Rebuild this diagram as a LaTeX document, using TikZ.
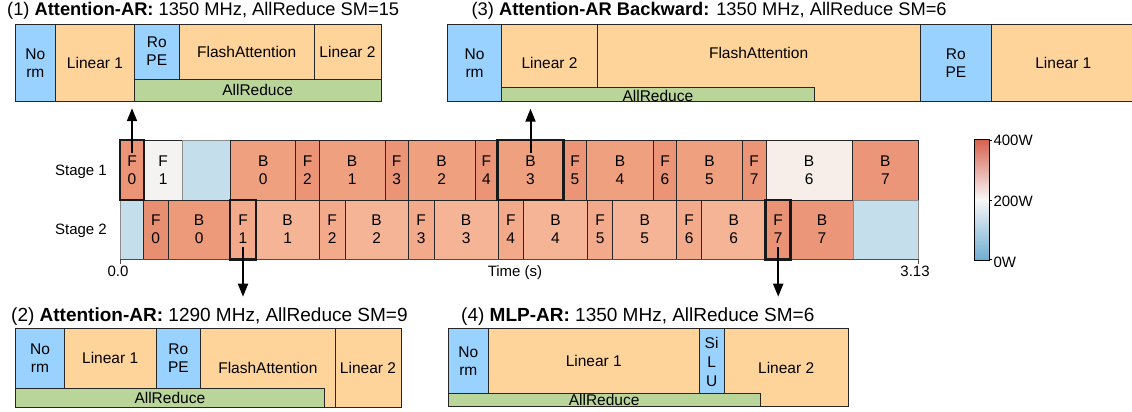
\documentclass[tikz,border=0pt]{standalone}
\usepackage{fontspec}
\setmainfont{Liberation Sans}
\usetikzlibrary{arrows.meta,calc}
\definecolor{normc}{RGB}{153,209,255}
\definecolor{linc}{RGB}{255,212,155}
\definecolor{arc}{RGB}{185,213,153}
\definecolor{sOneF}{RGB}{235,148,118}
\definecolor{sOneB}{RGB}{239,160,127}
\definecolor{sTwoF}{RGB}{242,170,139}
\definecolor{sTwoB}{RGB}{245,180,150}
\definecolor{sTwoFz}{RGB}{233,143,113}
\definecolor{sTwoBz}{RGB}{237,154,123}
\definecolor{sTwoFs}{RGB}{234,146,116}
\definecolor{bseven}{RGB}{236,150,121}
\definecolor{fonewhite}{RGB}{244,243,242}
\definecolor{bsixwhite}{RGB}{247,238,233}
\definecolor{idle}{RGB}{197,222,235}
\definecolor{cbred}{RGB}{214,96,77}
\definecolor{cbblue}{RGB}{112,173,209}
\definecolor{cbmid}{RGB}{247,247,247}
\tikzset{
  seg/.style={draw=black!85, line width=0.8pt},
  idleseg/.style={draw=black!45, line width=0.6pt, fill=idle},
  lbl/.style={inner sep=0pt, outer sep=0pt, align=center, font=\fontsize{15.5}{18}\selectfont},
  titlef/.style={inner sep=0pt, font=\fontsize{19}{22}\selectfont},
  titlesm/.style={inner sep=0pt, font=\fontsize{18.3}{22}\selectfont},
  axlbl/.style={inner sep=0pt, font=\fontsize{15}{18}\selectfont},
  hl/.style={draw=black!90, line width=2.5pt},
  arr/.style={line width=2pt, -{Triangle[length=13pt,width=10pt]}},
}
% name, style, x1, y1, x2, y2, text
\newcommand{\bx}[7]{%
  \path[#2] (#3,#4) rectangle (#5,#6);
  \coordinate (#1-nw) at (#3,#4);
  \coordinate (#1-se) at (#5,#6);
  \node[lbl] (#1) at ({(#3+#5)/2},{(#4+#6)/2}) {#7};}
% name, fill, x1, x2, row, text
\newcommand{\tb}[6]{%
  \ifnum#5=1 \bx{#1}{seg,fill=#2}{#3}{140}{#4}{200}{#6}%
  \else \bx{#1}{seg,fill=#2}{#3}{200}{#4}{259.3}{#6}\fi}
\begin{document}
\begin{tikzpicture}[x=1pt,y=-1pt]
\useasboundingbox (0,0) rectangle (1132,412);

% ---------- panel (1)
\node[titlesm, anchor=base west] (t1) at (7,15.5) {(1) \textbf{Attention-AR:} 1350 MHz, AllReduce SM=15};
\bx{pAnorm}{seg,fill=normc}{15}{24}{55.7}{101.7}{No\\rm}
\bx{pAlinA}{seg,fill=linc}{55.7}{24}{134.3}{101.7}{Linear 1}
\bx{pArope}{seg,fill=normc}{134.3}{24}{179.3}{79}{Ro\\PE}
\bx{pAfa}{seg,fill=linc}{179.3}{24}{314}{79}{FlashAttention}
\bx{pAlinB}{seg,fill=linc}{314}{24}{381}{79}{Linear 2}
\bx{pAar}{seg,fill=arc}{134.3}{79}{381}{101.7}{AllReduce}

% ---------- panel (3)
\node[titlesm, anchor=base west] (t3) at (471.4,15.5) {(3) \textbf{Attention-AR Backward:} 1350 MHz, AllReduce SM=6};
\bx{pCnorm}{seg,fill=normc}{447.3}{24}{501.8}{101.7}{No\\rm}
\bx{pClinB}{seg,fill=linc}{501.8}{24}{597.3}{101.7}{Linear 2}
\path[seg,fill=linc] (597.3,24) rectangle (920,101.7);
\node[lbl] (pCfa) at (758.6,53.3) {FlashAttention};
\bx{pCrope}{seg,fill=normc}{920}{24}{991.7}{101.7}{Ro\\PE}
\bx{pClinA}{seg,fill=linc}{991.7}{24}{1135}{101.7}{Linear 1}
\path[seg,fill=arc] (501.8,87.7) rectangle (814,101.7);
\node[lbl] (pCar) at (657.9,95.8) {AllReduce};

% ---------- timeline
\node[axlbl, anchor=base east] (st1) at (107,175.5) {Stage 1};
\node[axlbl, anchor=base east] (st2) at (107,234.5) {Stage 2};
% stage 1
\tb{aF0}{sOneF}{120}{144}{1}{F\\0}
\tb{aF1}{fonewhite}{144}{182.3}{1}{F\\1}
\path[idleseg] (182.3,140) rectangle (230.7,200);
\tb{aB0}{sOneB}{230.7}{295.7}{1}{B\\0}
\tb{aF2}{sOneF}{295.7}{319.3}{1}{F\\2}
\tb{aB1}{sOneB}{319.3}{385}{1}{B\\1}
\tb{aF3}{sOneF}{385}{408.3}{1}{F\\3}
\tb{aB2}{sOneB}{408.3}{475}{1}{B\\2}
\tb{aF4}{sOneF}{475}{497.7}{1}{F\\4}
\tb{aB3}{sOneB}{497.7}{563.3}{1}{B\\3}
\tb{aF5}{sOneF}{563.3}{586.7}{1}{F\\5}
\tb{aB4}{sOneB}{586.7}{653.3}{1}{B\\4}
\tb{aF6}{sOneF}{653.3}{676.7}{1}{F\\6}
\tb{aB5}{sOneB}{676.7}{742.3}{1}{B\\5}
\tb{aF7}{sOneF}{742.3}{766}{1}{F\\7}
\tb{aB6}{bsixwhite}{766}{852.3}{1}{B\\6}
\tb{aB7}{bseven}{852.3}{918.3}{1}{B\\7}
% stage 2
\path[idleseg] (120,200) rectangle (143.3,259.3);
\tb{bF0}{sTwoFz}{143.3}{168.3}{2}{F\\0}
\tb{bB0}{sTwoBz}{168.3}{230}{2}{B\\0}
\tb{bF1}{sTwoF}{230}{256}{2}{F\\1}
\tb{bB1}{sTwoB}{256}{319.3}{2}{B\\1}
\tb{bF2}{sTwoF}{319.3}{345}{2}{F\\2}
\tb{bB2}{sTwoB}{345}{408.3}{2}{B\\2}
\tb{bF3}{sTwoF}{408.3}{434}{2}{F\\3}
\tb{bB3}{sTwoB}{434}{498.3}{2}{B\\3}
\tb{bF4}{sTwoF}{498.3}{523.3}{2}{F\\4}
\tb{bB4}{sTwoB}{523.3}{587.7}{2}{B\\4}
\tb{bF5}{sTwoF}{587.7}{612.7}{2}{F\\5}
\tb{bB5}{sTwoB}{612.7}{676.7}{2}{B\\5}
\tb{bF6}{sTwoF}{676.7}{701.7}{2}{F\\6}
\tb{bB6}{sTwoB}{701.7}{765.7}{2}{B\\6}
\tb{bF7}{sTwoFs}{765.7}{790.7}{2}{F\\7}
\tb{bB7}{bseven}{790.7}{853.3}{2}{B\\7}
\path[idleseg] (853.3,200) rectangle (918.3,259.3);
% axis
\draw[black!70, line width=0.8pt] (120,259.3) -- (918.3,259.3);
\draw[black!70, line width=0.8pt] (120,259.3) -- (120,263.5);
\draw[black!70, line width=0.8pt] (918.3,259.3) -- (918.3,263.5);
\node[axlbl, anchor=base] (x0) at (118,276.7) {0.0};
\node[axlbl, anchor=base] (xl) at (515,276.7) {Time (s)};
\node[axlbl, anchor=base] (x1) at (915,276.7) {3.13};
% highlights
\draw[hl] (aF0-nw) rectangle (aF0-se);
\draw[hl] (aB3-nw) rectangle (aB3-se);
\draw[hl] (bF1-nw) rectangle (bF1-se);
\draw[hl] (bF7-nw) rectangle (bF7-se);

% ---------- colour bar
\shade[top color=cbred, bottom color=cbblue, middle color=cbmid] (974.3,139) rectangle (989,260);
\draw[black, line width=1pt] (974.3,139) rectangle (989,260);
\foreach \yy in {140,200,259} \draw[black, line width=0.8pt] (989,\yy) -- (992,\yy);
\node[axlbl, anchor=base west] (cb4) at (993.3,145.4) {400W};
\node[axlbl, anchor=base west] (cb2) at (993.3,206) {200W};
\node[axlbl, anchor=base west] (cb0) at (993.3,267) {0W};

% ---------- panel (2)
\node[titlef, anchor=base west] (t2) at (11,321.7) {(2) \textbf{Attention-AR:} 1290 MHz, AllReduce SM=9};
\bx{pBnorm}{seg,fill=normc}{15.7}{328.3}{64.3}{388.3}{No\\rm}
\bx{pBlinA}{seg,fill=linc}{64.3}{328.3}{156}{388.3}{Linear 1}
\bx{pBrope}{seg,fill=normc}{156}{328.3}{200.7}{388.3}{Ro\\PE}
\bx{pBfa}{seg,fill=linc}{200.7}{328.3}{335}{407.7}{FlashAttention}
\bx{pBlinB}{seg,fill=linc}{335}{328.3}{401}{407.7}{Linear 2}
\bx{pBar}{seg,fill=arc}{15.7}{388.3}{324}{407.7}{AllReduce}

% ---------- panel (4)
\node[titlef, anchor=base west] (t4) at (461,321.7) {(4) \textbf{MLP-AR:} 1350 MHz, AllReduce SM=6};
\bx{pDnorm}{seg,fill=normc}{448.3}{328.3}{488.3}{393.3}{No\\rm}
\bx{pDlinA}{seg,fill=linc}{488.3}{328.3}{699.3}{393.3}{Linear 1}
\path[seg,fill=normc] (699.3,328.3) rectangle (724,393.3);
\node[lbl, font=\fontsize{15.5}{19}\selectfont] (pDsilu) at (711.6,362.3) {Si\\L\\U};
\bx{pDlinB}{seg,fill=linc}{724}{328.3}{848.3}{406.7}{Linear 2}
\bx{pDar}{seg,fill=arc}{448.3}{393.3}{760}{406.7}{AllReduce}

% ---------- arrows
\coordinate (tipA) at (131.7,108.2);
\coordinate (tipB) at (530.5,108.7);
\coordinate (tipC) at (242.8,296.7);
\coordinate (tipD) at (778.2,296.7);
\draw[arr] ($(aF0.north)+(0,-3)$) -- (aF0.north |- tipA);
\draw[arr] ($(aB3.north)+(0,-3)$) -- (aB3.north |- tipB);
\draw[arr] ($(bF1.south)+(0,3)$) -- (bF1.south |- tipC);
\draw[arr] ($(bF7.south)+(0,3)$) -- (bF7.south |- tipD);
\end{tikzpicture}
\end{document}
